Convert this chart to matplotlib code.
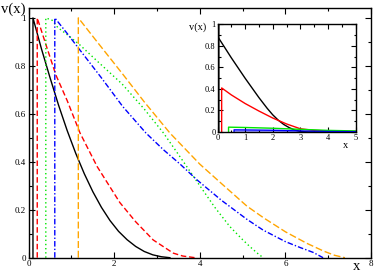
import matplotlib
matplotlib.use("Agg")
import matplotlib.pyplot as plt
from matplotlib.ticker import MultipleLocator, FixedLocator

plt.rcParams['font.family'] = ['Liberation Serif', 'DejaVu Serif']

# main panel: v(x) for five cases
black_x = [0.1, 0.1, 0.3, 0.5, 0.7, 0.9, 1.1, 1.3, 1.5, 1.7, 1.9, 2.1, 2.3, 2.5, 2.7, 2.9, 3.1, 3.3]
black_y = [0, 1.0, 0.87, 0.75, 0.635, 0.53, 0.435, 0.35, 0.275, 0.21, 0.155, 0.11, 0.075, 0.047, 0.026, 0.012, 0.004, 0]

red_x = [0.2, 0.2, 0.4, 0.64, 0.9, 1.2, 1.6, 2.13, 2.5, 2.91, 3.2, 3.38, 3.6, 3.89]
red_y = [0, 1.0, 0.89, 0.76, 0.655, 0.52, 0.38, 0.23, 0.15, 0.074, 0.04, 0.019, 0.007, 0]

green_x = [0.4, 0.4, 0.55, 0.68, 0.9, 1.18, 1.6, 2.18, 2.7, 3.15, 3.54, 4.0, 4.35, 4.7, 5.0, 5.17, 5.35, 5.48]
green_y = [0, 1.0, 0.99, 0.96, 0.93, 0.89, 0.82, 0.725, 0.62, 0.52, 0.42, 0.30, 0.21, 0.13, 0.075, 0.046, 0.018, 0]

blue_x = [0.61, 0.61, 0.9, 1.18, 1.7, 2.2, 2.74, 3.15, 3.54, 3.93, 4.5, 5.1, 5.48, 6.0, 6.35, 6.65, 6.88]
blue_y = [0, 1.0, 0.935, 0.87, 0.75, 0.63, 0.52, 0.45, 0.39, 0.325, 0.24, 0.16, 0.115, 0.067, 0.042, 0.022, 0]

orange_x = [1.16, 1.16, 1.6, 2.2, 2.7, 3.3, 4.0, 4.5, 5.1, 5.5, 6.0, 6.5, 6.9, 7.15, 7.39]
orange_y = [0, 1.0, 0.90, 0.765, 0.65, 0.52, 0.39, 0.31, 0.215, 0.165, 0.108, 0.06, 0.027, 0.01, 0]

# inset
ins_black_x = [0, 0.5, 1.0, 1.5, 1.8, 2.0, 2.2, 2.4, 2.6, 2.8, 3.0, 3.3, 5.0]
ins_black_y = [0.89, 0.69, 0.50, 0.32, 0.22, 0.16, 0.11, 0.07, 0.04, 0.018, 0.006, 0.0, 0.0]
ins_red_x = [0.15, 0.15, 0.5, 1.0, 1.5, 2.0, 2.5, 3.0, 3.5, 4.0, 5.0]
ins_red_y = [0, 0.41, 0.345, 0.265, 0.195, 0.13, 0.075, 0.03, 0.015, 0.01, 0.005]
ins_green_x = [0.4, 0.4, 1.0, 2.0, 3.0, 4.0, 5.0]
ins_green_y = [0, 0.045, 0.042, 0.035, 0.025, 0.015, 0.01]
ins_blue_x = [0.6, 0.6, 1.0, 2.0, 3.0, 4.0, 5.0]
ins_blue_y = [0, 0.02, 0.019, 0.016, 0.01, 0.005, 0.003]

orange = '#ffa500'
green = '#00e600'

fig = plt.figure(figsize=(3.74, 2.75), dpi=100)
ax = fig.add_axes([0.0767, 0.0629, 0.9153, 0.9069])

ax.plot(black_x, black_y, color='black', lw=1.0)
ax.plot(red_x, red_y, color='red', lw=1.0, dashes=(4, 2))
ax.plot(green_x, green_y, color=green, lw=1.0, dashes=(1, 2))
ax.plot(blue_x, blue_y, color='blue', lw=1.0, dashes=(4, 1.5, 1, 1.5))
ax.plot(orange_x, orange_y, color=orange, lw=1.0, dashes=(5, 2))

ax.set_xlim(0, 8)
ax.set_ylim(0, 1.04)
ax.xaxis.set_major_locator(MultipleLocator(2))
ax.xaxis.set_minor_locator(MultipleLocator(1))
ax.yaxis.set_major_locator(FixedLocator([0, 0.2, 0.4, 0.6, 0.8, 1.0]))
ax.yaxis.set_minor_locator(FixedLocator([0.1, 0.3, 0.5, 0.7, 0.9]))
ax.set_yticklabels(['0', '0.2', '0.4', '0.6', '0.8', '1'])
ax.tick_params(which='both', direction='in', top=True, right=True, labelsize=6.5, pad=2)
ax.tick_params(which='major', length=4.5, width=0.8)
ax.tick_params(which='minor', length=2.3, width=0.8)
for s in ax.spines.values():
    s.set_linewidth(1.0)

fig.text(0.035, 0.966, 'v(x)', fontsize=10.5, ha='center', va='center')
fig.text(0.953, 0.03, 'x', fontsize=10.5, ha='center', va='center')

# inset panel
axi = fig.add_axes([0.5816, 0.52, 0.369, 0.391])
axi.fill_between([0, 0.1], [1, 1], color='#777777', lw=0)
axi.fill_between(ins_blue_x, ins_blue_y, color='#9999ff', lw=0)
axi.plot(ins_black_x, ins_black_y, color='black', lw=1.0)
axi.plot(ins_red_x, ins_red_y, color='red', lw=1.0)
axi.plot(ins_green_x, ins_green_y, color=green, lw=1.0)
axi.plot(ins_blue_x, ins_blue_y, color='blue', lw=1.0)
axi.set_xlim(0, 5)
axi.set_ylim(0, 1)
axi.xaxis.set_major_locator(MultipleLocator(1))
axi.xaxis.set_minor_locator(MultipleLocator(0.5))
axi.yaxis.set_major_locator(FixedLocator([0, 0.2, 0.4, 0.6, 0.8, 1.0]))
axi.yaxis.set_minor_locator(FixedLocator([0.1, 0.3, 0.5, 0.7, 0.9]))
axi.set_yticklabels(['0', '0.2', '0.4', '0.6', '0.8', '1'])
axi.tick_params(which='both', direction='in', top=True, right=True, labelsize=6, pad=1.5)
axi.tick_params(which='major', length=3.5, width=0.8)
axi.tick_params(which='minor', length=1.8, width=0.8)
for s in axi.spines.values():
    s.set_linewidth(1.0)

fig.text(0.528, 0.9, 'v(x)', fontsize=7.5, ha='center', va='center')
fig.text(0.925, 0.472, 'x', fontsize=7.5, ha='center', va='center')

fig.savefig('out.png', dpi=100)
